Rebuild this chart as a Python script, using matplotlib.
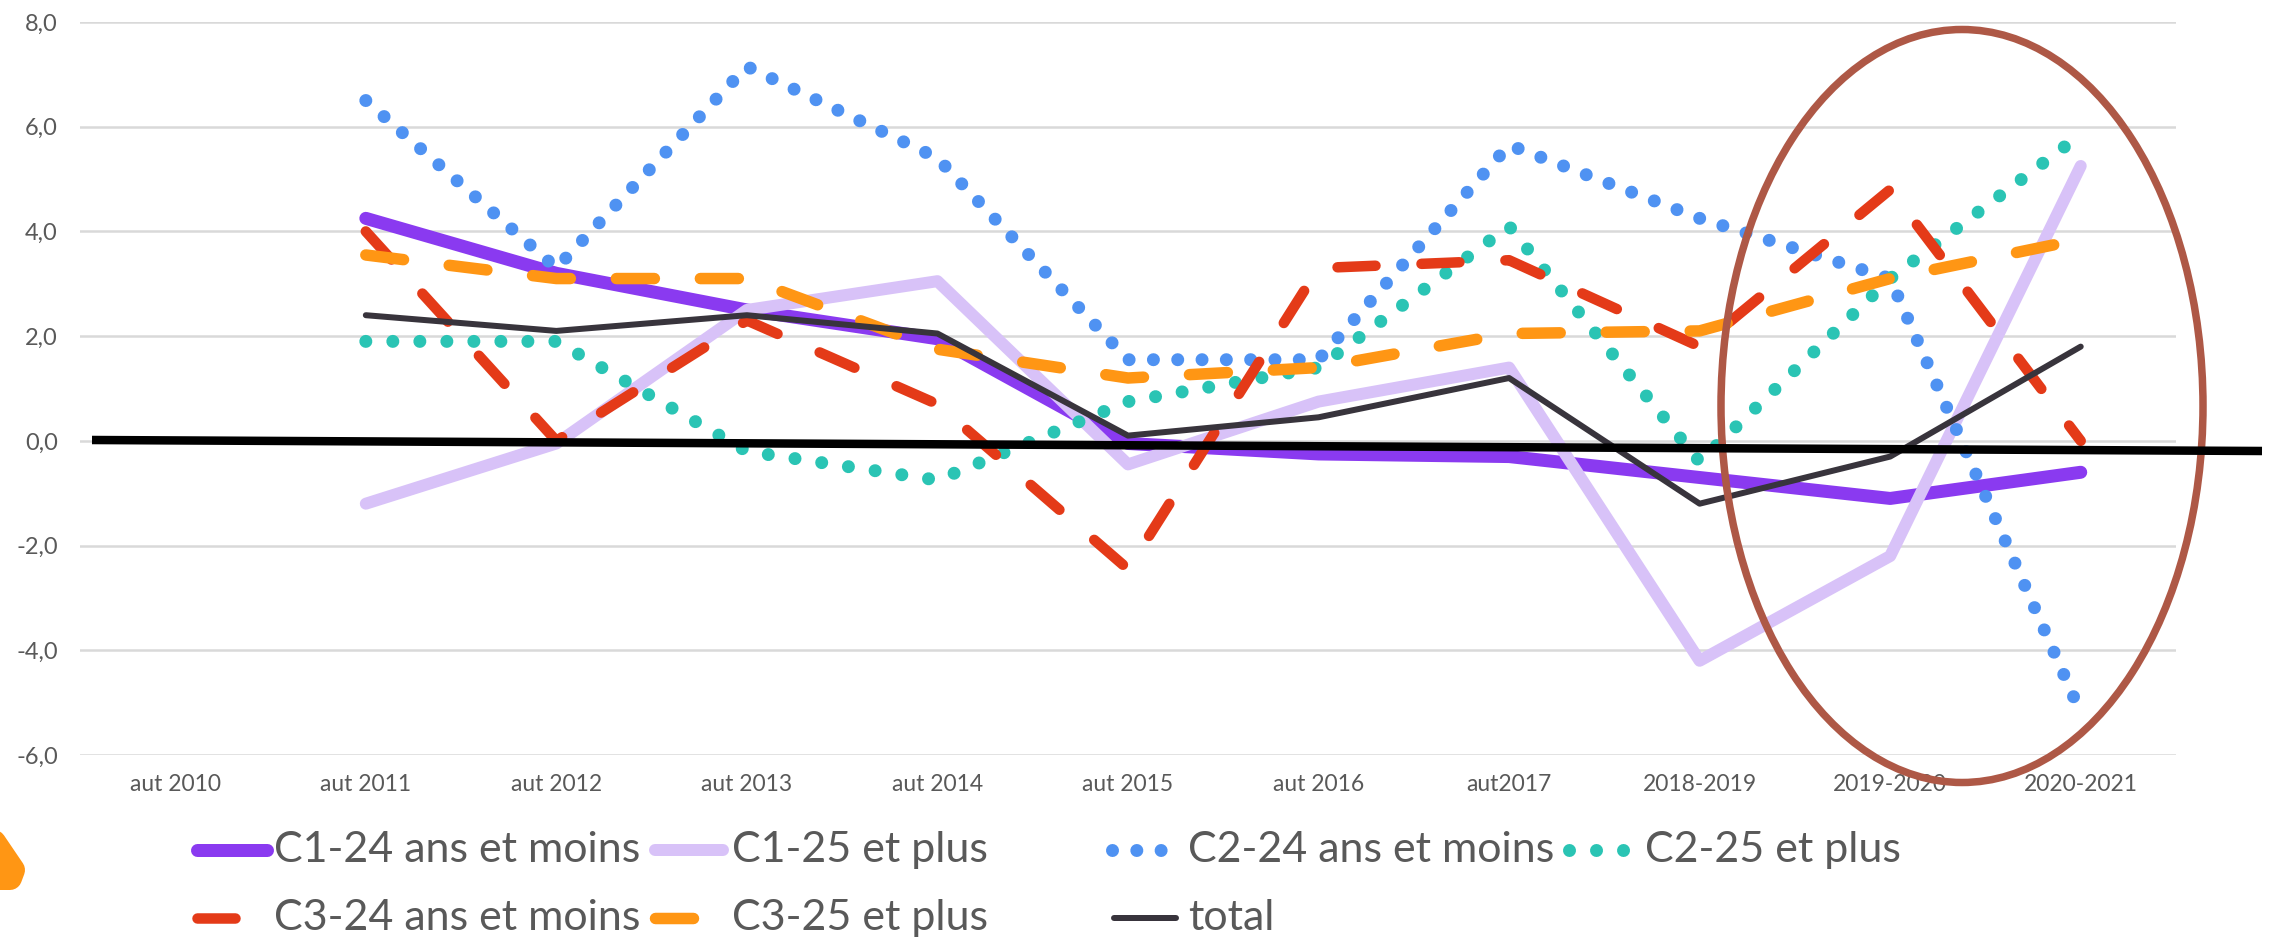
#!/usr/bin/env python3

import numpy as np
import matplotlib
matplotlib.use("Agg")
import matplotlib.pyplot as plt
from matplotlib.lines import Line2D
from matplotlib.patches import Ellipse, Polygon

categories = ["aut 2010", "aut 2011", "aut 2012", "aut 2013", "aut 2014", "aut 2015",
              "aut 2016", "aut2017", "2018-2019", "2019-2020", "2020-2021"]
y_ticks = [-6, -4, -2, 0, 2, 4, 6, 8]
y_labels = ["-6,0", "-4,0", "-2,0", "0,0", "2,0", "4,0", "6,0", "8,0"]

# nothing for aut 2010, every series starts in 2011
c1_24 = [np.nan, 4.25, 3.2, 2.5, 1.95, -0.05, -0.25, -0.3, -0.7, -1.1, -0.6]
c1_25 = [np.nan, -1.2, -0.05, 2.5, 3.05, -0.45, 0.75, 1.4, -4.2, -2.2, 5.25]
c2_24 = [np.nan, 6.5, 3.3, 7.15, 5.4, 1.55, 1.55, 5.65, 4.25, 3.1, -5.2]
c2_25 = [np.nan, 1.9, 1.9, -0.2, -0.75, 0.75, 1.4, 4.1, -0.4, 3.1, 5.85]
c3_24 = [np.nan, 4.0, 0.0, 2.3, 0.7, -2.45, 3.3, 3.45, 1.8, 4.8, 0.0]
c3_25 = [np.nan, 3.55, 3.1, 3.1, 1.75, 1.2, 1.4, 2.05, 2.1, 3.1, 3.85]
total = [np.nan, 2.4, 2.1, 2.4, 2.05, 0.1, 0.45, 1.2, -1.2, -0.3, 1.8]

W, H = 2272, 941
PT = 0.72  # pixels to points at dpi 100

plt.rcParams['font.family'] = ['Lato', 'DejaVu Sans']
plt.rcParams['lines.scale_dashes'] = False
TEXT = "#595959"


def px(x, y):
    # pixel position in the picture -> figure fraction
    return x / W, 1 - y / H


def line_style(color, width, dashes=None):
    style = dict(color=color, lw=width * PT)
    if dashes is None:
        style.update(solid_capstyle="round", solid_joinstyle="round")
    else:
        style.update(dashes=(dashes[0] * PT, dashes[1] * PT),
                     dash_capstyle="round", dash_joinstyle="round")
    return style


def main():
    fig = plt.figure(figsize=(W / 100, H / 100), dpi=100)
    ax = fig.add_axes([80 / W, 1 - 755 / H, (2176 - 80) / W, (755 - 22) / H])

    x = np.arange(len(categories))
    series = [
        (c1_24, "C1-24 ans et moins", line_style("#8A3AF0", 13), 192, 272, 274, 850),
        (c1_25, "C1-25 et plus", line_style("#D8C2F8", 12), 650, 728, 732, 850),
        (c2_24, "C2-24 ans et moins", line_style("#4F92F2", 13, (0.01, 24.3)), 1107, 1169, 1188, 850),
        (c2_25, "C2-25 et plus", line_style("#2AC4B4", 13, (0.01, 27)), 1564, 1634, 1645, 850),
        (c3_24, "C3-24 ans et moins", line_style("#E43A18", 10.5, (38, 46)), 192, 272, 274, 918),
        (c3_25, "C3-25 et plus", line_style("#FF9614", 11.5, (38, 46)), 650, 728, 732, 918),
        (total, "total", line_style("#38343C", 6), 1109, 1181, 1188, 918),
    ]

    for values, label, style, x0, x1, text_x, y in series:
        ax.plot(x, values, **style)
        # legend is spread by hand in the original, keep it that way
        xa, ya = px(x0 + 5, y)
        xb, yb = px(x1 - 5, y)
        fig.add_artist(Line2D([xa, xb], [ya, yb], **style))
        fig.text(*px(text_x, y), label, fontsize=31, color=TEXT, va="center", ha="left")

    ax.set_xlim(-0.5, 10.5)
    ax.set_ylim(-6, 8)
    ax.set_xticks(x)
    ax.set_xticklabels(categories, fontsize=16.5, color=TEXT)
    ax.set_yticks(y_ticks)
    ax.set_yticklabels(y_labels, fontsize=17, color=TEXT)
    ax.tick_params(axis="both", length=0)
    ax.tick_params(axis="x", pad=14)
    ax.tick_params(axis="y", pad=16)
    ax.grid(axis="y", color="#D9D9D9", lw=1.8)
    ax.set_axisbelow(True)
    for spine in ax.spines.values():
        spine.set_visible(False)
    ax.patch.set_alpha(0)

    # hand drawn marks on top of the chart
    xa, ya = px(92, 440)
    xb, yb = px(2262, 451)
    fig.add_artist(Line2D([xa, xb], [ya, yb], color="black", lw=8.5 * PT, solid_capstyle="butt"))

    cx, cy = px(1962, 406)
    fig.add_artist(Ellipse((cx, cy), 482 / W, 753 / H, fill=False, edgecolor="#AE5846",
                           lw=7.5 * PT, transform=fig.transFigure))

    tri = [px(-25, 878), px(10, 878), px(13, 870), px(-6, 842)]
    fig.add_artist(Polygon(tri, closed=True, facecolor="#FF9614", edgecolor="#FF9614",
                           lw=24 * PT, joinstyle="round", transform=fig.transFigure))

    fig.savefig("out.png", dpi=100, facecolor="white")


if __name__ == "__main__":
    main()
